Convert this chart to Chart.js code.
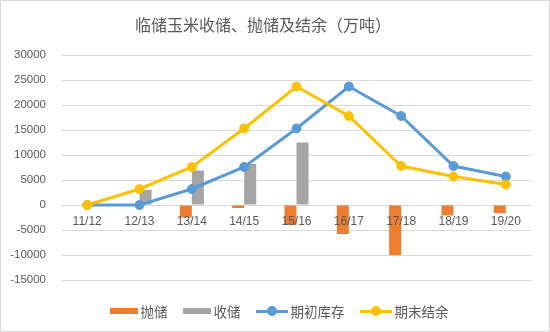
<!DOCTYPE html>
<html lang="zh">
<head>
    <meta charset="UTF-8">
    <title>临储玉米收储、抛储及结余</title>
    <script src="https://cdn.jsdelivr.net/npm/chart.js"></script>
    <style>
      body { margin: 0; background: #fff; }
      .box { position: relative; width: 550px; height: 332px; box-sizing: border-box; border: 1px solid #d9d9d9; background: #fff; overflow: hidden; }
      .box canvas { position: absolute; left: -1px; top: -1px; }
      .title { position: absolute; left: 0; top: 13px; width: 524px; text-align: center; font: 16px "Noto Sans CJK SC", sans-serif; line-height: 20px; color: #595959; }
      .legend { position: absolute; left: 0; top: 300px; width: 556px; display: flex; justify-content: center; gap: 15px; font: 13.5px "Noto Sans CJK SC", sans-serif; color: #595959; line-height: 20px; }
      .legend .item { display: flex; align-items: center; gap: 3px; }
      .legend .rect { width: 28px; height: 6px; }
      .legend .line { position: relative; width: 32px; height: 3px; }
      .legend .line i { position: absolute; left: 11px; top: -3.5px; width: 10px; height: 10px; border-radius: 50%; }
    </style>
</head>
<body>
  <div class="box">
    <canvas id="stockChart" width="550" height="332"></canvas>
    <div class="title">临储玉米收储、抛储及结余（万吨）</div>
    <div class="legend" id="legend"></div>
  </div>
  <script>
    // 年度 (marketing years)
    const years = ['11/12', '12/13', '13/14', '14/15', '15/16', '16/17', '17/18', '18/19', '19/20'];
    // 抛储 (auction sales, shown negative)
    const dumped = [null, null, -2500, -600, -4000, -5800, -10000, -2100, -1600];
    // 收储 (purchases)
    const purchased = [null, 3000, 6900, 8200, 12500, null, null, null, null];
    // 期初库存 (opening stock)
    const openStock = [0, 0, 3200, 7600, 15300, 23700, 17800, 7800, 5700];
    // 期末结余 (closing stock)
    const closeStock = [0, 3200, 7600, 15300, 23700, 17800, 7800, 5700, 4100];
    // y axis range
    const yMin = -15000, yMax = 30000, yStep = 5000;

    const textColor = '#595959';

    // category labels sit on the zero line, like Excel does
    const zeroLabels = {
      id: 'zeroLabels',
      afterDatasetsDraw(chart) {
        const c = chart.ctx;
        const x = chart.scales.x, y = chart.scales.y;
        const y0 = y.getPixelForValue(0);
        c.save();
        c.font = '12px "Liberation Sans", sans-serif';
        c.fillStyle = textColor;
        c.textAlign = 'center';
        c.textBaseline = 'middle';
        chart.data.labels.forEach((lab, i) => {
          c.fillText(lab, x.getPixelForValue(i), y0 + 17);
        });
        c.restore();
      }
    };

    const ctx = document.getElementById('stockChart').getContext('2d');
    const chart = new Chart(ctx, {
      data: {
        labels: years,
        datasets: [
          { type: 'bar', label: '抛储', data: dumped, backgroundColor: '#ED7D31', order: 2,
            barPercentage: 1, categoryPercentage: 0.46 },
          { type: 'bar', label: '收储', data: purchased, backgroundColor: '#A5A5A5', order: 3,
            barPercentage: 1, categoryPercentage: 0.46 },
          { type: 'line', label: '期初库存', data: openStock, borderColor: '#5B9BD5', backgroundColor: '#5B9BD5',
            borderWidth: 3, pointRadius: 4.5, pointBorderWidth: 1, tension: 0, order: 1 },
          { type: 'line', label: '期末结余', data: closeStock, borderColor: '#FFC000', backgroundColor: '#FFC000',
            borderWidth: 3, pointRadius: 4.5, pointBorderWidth: 1, tension: 0, order: 0 }
        ]
      },
      options: {
        responsive: false,
        animation: false,
        layout: { padding: { top: 55, bottom: 52, left: 0, right: 18 } },
        plugins: { legend: { display: false }, title: { display: false }, tooltip: { enabled: false } },
        scales: {
          x: { display: false },
          y: {
            min: yMin, max: yMax,
            afterFit: s => { s.width = 61; },
            grid: { color: '#d9d9d9', drawTicks: false },
            border: { display: false },
            ticks: { stepSize: yStep, padding: 15, color: textColor,
              callback: v => String(v),
              font: { family: '"Liberation Sans", sans-serif', size: 11.5 } }
          }
        }
      },
      plugins: [zeroLabels]
    });

    // legend built from the datasets
    const legend = document.getElementById('legend');
    chart.data.datasets.forEach(ds => {
      const item = document.createElement('div');
      item.className = 'item';
      const mark = document.createElement('div');
      if (ds.type === 'bar') {
        mark.className = 'rect';
        mark.style.background = ds.backgroundColor;
      } else {
        mark.className = 'line';
        mark.style.background = ds.borderColor;
        const dot = document.createElement('i');
        dot.style.background = ds.borderColor;
        mark.appendChild(dot);
      }
      const txt = document.createElement('span');
      txt.textContent = ds.label;
      item.appendChild(mark);
      item.appendChild(txt);
      legend.appendChild(item);
    });
  </script>
</body>
</html>
